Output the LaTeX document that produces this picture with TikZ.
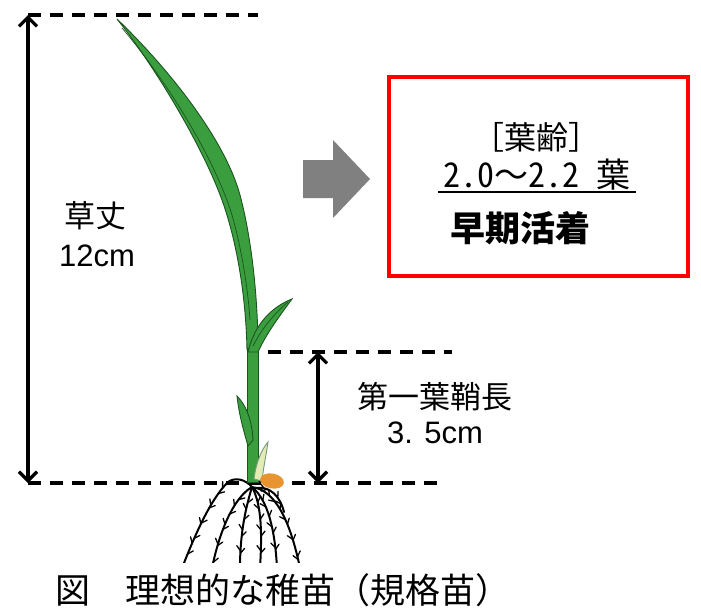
\documentclass[tikz,border=0pt]{standalone}
\usepackage{fontspec}
\newfontfamily\jp{Noto Sans CJK JP}
\newfontfamily\jphw{Noto Sans CJK JP}[RawFeature=+hwid]
\newfontfamily\lat{Liberation Sans}
\usetikzlibrary{arrows.meta,decorations.markings}
\definecolor{leafgreen}{RGB}{58,158,62}
\definecolor{leafedge}{RGB}{28,84,32}
\definecolor{budyellow}{RGB}{228,236,182}
\definecolor{seedorange}{RGB}{232,148,48}
\definecolor{arrowgray}{RGB}{128,128,128}
\tikzset{
  guide/.style={line width=3.2pt, dash pattern=on 13pt off 9pt},
  dim/.style={line width=3.2pt, <->},
  leaf/.style={fill=leafgreen, draw=leafedge, line width=0.9pt},
  vein/.style={draw=leafedge, line width=0.7pt},
  root/.style={line width=2pt, line cap=round, postaction={decorate},
    decoration={markings,
      mark=between positions 0.2 and 0.95 step 17pt with {\draw[line width=1.3pt] (0pt,0pt) -- (-5pt,4pt);},
      mark=between positions 0.28 and 0.95 step 21pt with {\draw[line width=1.3pt] (0pt,0pt) -- (-5pt,-4pt);}}},
  lbl/.style={inner sep=0pt, font=\jp\fontsize{31}{31}\selectfont},
  num/.style={inner sep=0pt, font=\lat\fontsize{31}{31}\selectfont},
}
\begin{document}
\begin{tikzpicture}[x=1pt, y=-1pt, >={Straight Barb[length=9pt,width=18pt]}]
\useasboundingbox (0,0) rectangle (701,614);
% guide lines
\coordinate (top) at (28,15);
\coordinate (topend) at (258,15);
\coordinate (ground) at (28,483);
\coordinate (groundend) at (445,483);
\coordinate (collar) at (268,352);
\coordinate (collarend) at (452,352);
\coordinate (sheathtop) at (318,352);
\coordinate (sheathbot) at (318,483);
\draw[guide] (top) -- (topend);
\draw[guide] (collar) -- (collarend);
\draw[guide] (ground) -- (groundend);
\draw[dim] (ground) -- (top);
\draw[dim] (sheathtop) -- (sheathbot);
% roots
\begin{scope}
  \clip (150,470) rectangle (340,562);
  \draw[root] (252,487) .. controls (245,479) and (235,477) .. (228,482) .. controls (210,500) and (195,535) .. (182,568);
  \draw[root] (252,487) .. controls (238,495) and (222,520) .. (212,568);
  \draw[root] (252,487) .. controls (245,510) and (240,535) .. (240,568);
  \draw[root] (252,487) .. controls (262,505) and (262,535) .. (260,568);
  \draw[root] (252,487) .. controls (268,500) and (275,530) .. (277,568);
  \draw[root] (252,487) .. controls (275,490) and (290,520) .. (300,568);
  \draw[root] (256,488) .. controls (270,486) and (280,496) .. (284,512);
\end{scope}
% plant
\draw[leaf] (117,19) .. controls (150,60) and (200,140) .. (222,200) .. controls (238,245) and (246,300) .. (247,350)
  -- (258,350) .. controls (258,300) and (252,240) .. (240,195) .. controls (225,140) and (170,70) .. cycle;
\draw[vein] (122,28) .. controls (170,85) and (215,160) .. (232,215) .. controls (242,250) and (248,290) .. (250,320);
\draw[leaf] (247,348) rectangle (258,482);
\draw[leaf] (248,352) .. controls (255,322) and (274,306) .. (292,299) .. controls (281,314) and (266,334) .. (258,352) -- cycle;
\draw[vein] (253,346) .. controls (262,328) and (275,313) .. (288,302);
\draw[leaf] (237,396) .. controls (239,415) and (244,432) .. (248,446) -- (253,440) .. controls (252,420) and (246,405) .. cycle;
\draw[leaf, fill=budyellow, draw=leafedge!60] (254,479) .. controls (256,462) and (262,449) .. (268,442) .. controls (266,456) and (263,470) .. (262,481) -- cycle;
\fill[seedorange, rotate around={-10:(272,481)}] (272,481) ellipse [x radius=12, y radius=7.5];
% arrow and box
\fill[arrowgray] (303,160) -- (333,160) -- (333,140) -- (370,179) -- (333,218) -- (333,198) -- (303,198) -- cycle;
\node[draw=red, line width=4pt, minimum width=299pt, minimum height=199pt, inner sep=0pt] (agebox) at (538.5,176.5) {};
\node[inner sep=0pt, font=\jp\fontsize{32}{32}\selectfont] (age) at (536,137) {［葉齢］};
\node[inner sep=0pt, font=\jp\fontsize{34}{34}\selectfont] (leafno) at (537,175) {{\jphw 2.0}～{\jphw 2.2\ }葉};
\draw[line width=1.6pt] (438,192) -- (636,192);
\node[inner sep=0pt, font=\jp\bfseries\fontsize{35}{35}\selectfont] (rooting) at (520,228) {早期活着};
% labels
\node[lbl] (plantheight) at (95,216) {草丈};
\node[num] (plantheightval) at (97,256) {12cm};
\node[lbl] (sheath) at (435,397) {第一葉鞘長};
\node[num] (sheathval) at (435,433) {3. 5cm};
\node[inner sep=0pt, anchor=west, font=\jp\fontsize{35}{35}\selectfont] (caption) at (55,590) {図　理想的な稚苗（規格苗）};
\end{tikzpicture}
\end{document}
